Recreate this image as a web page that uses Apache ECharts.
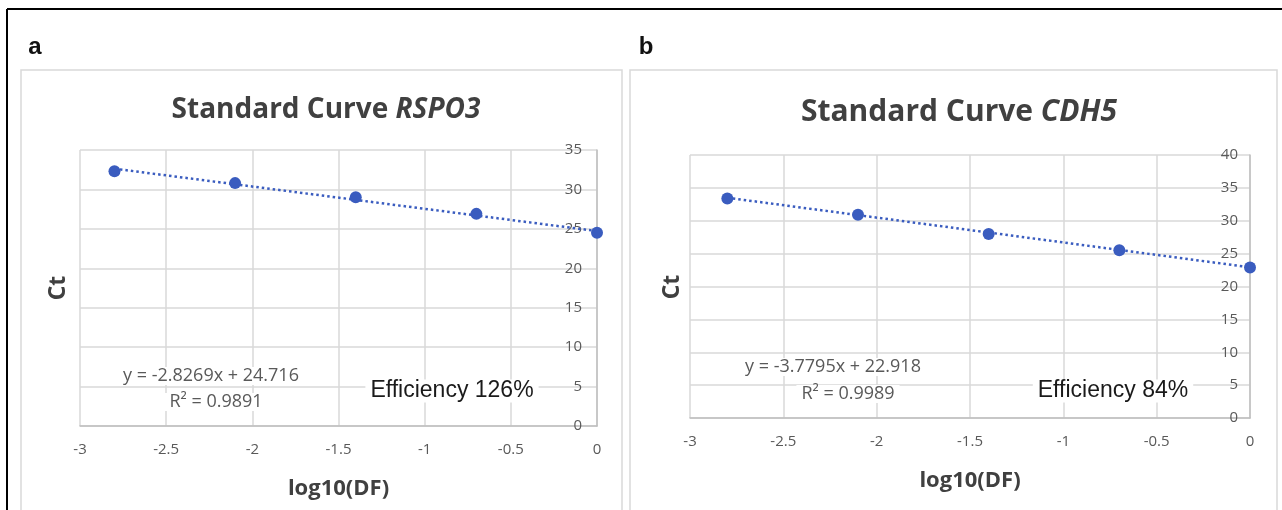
<!DOCTYPE html>
<html lang="en">
<head>
    <meta charset="UTF-8">
    <title>Standard Curves RSPO3 / CDH5</title>
    <script src="https://cdn.jsdelivr.net/npm/echarts@6/dist/echarts.min.js"></script>
    <style>
        html, body { margin: 0; padding: 0; background: #fff; }
        #chart { width: 1282px; height: 510px; }
    </style>
</head>
<body>
    <div id="chart"></div>

    <script>
        // data
        var logDF = [-2.8, -2.1, -1.4, -0.7, 0];
        var ctRSPO3 = [32.3, 30.8, 29.0, 26.9, 24.5];
        var ctCDH5 = [33.4, 30.9, 28.0, 25.5, 22.9];

        var xTicks = [-3, -2.5, -2, -1.5, -1, -0.5, 0];
        var yMaxA = 35, yMaxB = 40;

        // trendline equations printed on the chart
        var slopes = [-2.8269, -3.7795];
        var intercepts = [24.716, 22.918];
        var eqTexts = ['y = -2.8269x + 24.716', 'y = -3.7795x + 22.918'];
        var r2Texts = ['R² = 0.9891', 'R² = 0.9989'];
        var effTexts = ['Efficiency 126%', 'Efficiency 84%'];

        var blue = '#3a5cbf';
        var grey = '#595959';
        var narrow = "'Open Sans', 'Noto Sans', sans-serif";

        function trend(i) {
            var x0 = logDF[0], x1 = logDF[logDF.length - 1];
            return [[x0, slopes[i] * x0 + intercepts[i]], [x1, slopes[i] * x1 + intercepts[i]]];
        }

        function xAx(gi) {
            return {
                gridIndex: gi, type: 'value', min: -3, max: 0, interval: 0.5,
                name: 'log10(DF)', nameLocation: 'middle', nameGap: 52,
                nameTextStyle: { fontFamily: 'Open Sans', fontWeight: 'bold', fontSize: 22, color: '#404040' },
                axisLine: { show: true, onZero: false, lineStyle: { color: '#bfbfbf', width: 1.5 } },
                axisTick: { show: false },
                axisLabel: {
                    margin: 16, fontSize: 15, color: grey, fontFamily: narrow,
                    formatter: function (v) { return xTicks.indexOf(v) >= 0 ? String(v) : ''; }
                },
                splitLine: { show: true, lineStyle: { color: '#d9d9d9', width: 1.5 } }
            };
        }

        function yAx(gi, max, gap) {
            return {
                gridIndex: gi, type: 'value', position: 'right', min: 0, max: max, interval: 5,
                axisLine: { show: true, lineStyle: { color: '#bfbfbf', width: 1.5 } },
                axisTick: { show: false },
                axisLabel: { inside: true, margin: gap, fontSize: 15, color: grey, fontFamily: narrow },
                splitLine: { show: true, lineStyle: { color: '#d9d9d9', width: 1.5 } }
            };
        }

        function noteText(x, y, txt, size, color, font) {
            return {
                type: 'text', x: x, y: y, z: 100,
                style: {
                    text: txt, fontSize: size, fill: color, fontFamily: font,
                    align: 'center', verticalAlign: 'middle',
                    backgroundColor: '#fff', padding: [0, 5]
                }
            };
        }

        var chart = echarts.init(document.getElementById('chart'), null, { renderer: 'canvas' });

        var titleRich = function (size) {
            return {
                n: { fontFamily: 'Open Sans', fontWeight: 'bold', fontSize: size, color: '#404040' },
                i: { fontFamily: 'Open Sans', fontWeight: 'bold', fontStyle: 'italic', fontSize: size, color: '#404040' }
            };
        };

        var option = {
            backgroundColor: '#fff',
            animation: false,
            title: [
                { text: '{n|Standard Curve }{i|RSPO3}', left: 321, top: 91, textAlign: 'center',
                  textStyle: { rich: titleRich(28) } },
                { text: '{n|Standard Curve }{i|CDH5}', left: 954, top: 92, textAlign: 'center',
                  textStyle: { rich: titleRich(30) } }
            ],
            grid: [
                { left: 80, top: 150, width: 517, height: 276 },
                { left: 690, top: 155, width: 560, height: 263 }
            ],
            xAxis: [xAx(0), xAx(1)],
            yAxis: [yAx(0, yMaxA, 15), yAx(1, yMaxB, 12)],
            series: [
                { type: 'line', xAxisIndex: 0, yAxisIndex: 0, data: trend(0), symbol: 'none', z: 3,
                  lineStyle: { color: blue, width: 2.5, type: [2.5, 3] } },
                { type: 'scatter', xAxisIndex: 0, yAxisIndex: 0, z: 4, symbolSize: 12,
                  itemStyle: { color: blue, opacity: 1 },
                  data: logDF.map(function (x, k) { return [x, ctRSPO3[k]]; }) },
                { type: 'line', xAxisIndex: 1, yAxisIndex: 1, data: trend(1), symbol: 'none', z: 3,
                  lineStyle: { color: blue, width: 2.5, type: [2.5, 3] } },
                { type: 'scatter', xAxisIndex: 1, yAxisIndex: 1, z: 4, symbolSize: 12,
                  itemStyle: { color: blue, opacity: 1 },
                  data: logDF.map(function (x, k) { return [x, ctCDH5[k]]; }) }
            ],
            graphic: [
                // outer figure frame (top and left edges)
                { type: 'line', shape: { x1: 7, y1: 9, x2: 1282, y2: 9 }, style: { stroke: '#000', lineWidth: 2 } },
                { type: 'line', shape: { x1: 7, y1: 9, x2: 7, y2: 510 }, style: { stroke: '#000', lineWidth: 2 } },
                // chart boxes
                { type: 'rect', shape: { x: 21, y: 70, width: 601, height: 460 }, style: { fill: null, stroke: '#d9d9d9', lineWidth: 1.5 } },
                { type: 'rect', shape: { x: 630, y: 70, width: 647, height: 460 }, style: { fill: null, stroke: '#d9d9d9', lineWidth: 1.5 } },
                // panel letters
                { type: 'text', x: 35, y: 47, style: { text: 'a', fontFamily: 'Liberation Sans', fontWeight: 'bold', fontSize: 24, fill: '#111', align: 'center', verticalAlign: 'middle' } },
                { type: 'text', x: 646, y: 47, style: { text: 'b', fontFamily: 'Liberation Sans', fontWeight: 'bold', fontSize: 24, fill: '#111', align: 'center', verticalAlign: 'middle' } },
                // y axis names
                { type: 'text', x: 58, y: 288, rotation: Math.PI / 2,
                  style: { text: 'Ct', fontFamily: 'Open Sans', fontWeight: 'bold', fontSize: 23, fill: '#404040', align: 'center', verticalAlign: 'middle' } },
                { type: 'text', x: 672, y: 287, rotation: Math.PI / 2,
                  style: { text: 'Ct', fontFamily: 'Open Sans', fontWeight: 'bold', fontSize: 23, fill: '#404040', align: 'center', verticalAlign: 'middle' } },
                // trendline labels
                noteText(211, 376, eqTexts[0], 18, grey, narrow),
                noteText(216, 402, r2Texts[0], 18, grey, narrow),
                noteText(833, 367, eqTexts[1], 18, grey, narrow),
                noteText(848, 394, r2Texts[1], 18, grey, narrow),
                noteText(452, 391, effTexts[0], 23, '#1a1a1a', "'Liberation Sans', Arial, sans-serif"),
                noteText(1113, 391, effTexts[1], 23, '#1a1a1a', "'Liberation Sans', Arial, sans-serif")
            ]
        };

        chart.setOption(option);
    </script>
</body>
</html>
